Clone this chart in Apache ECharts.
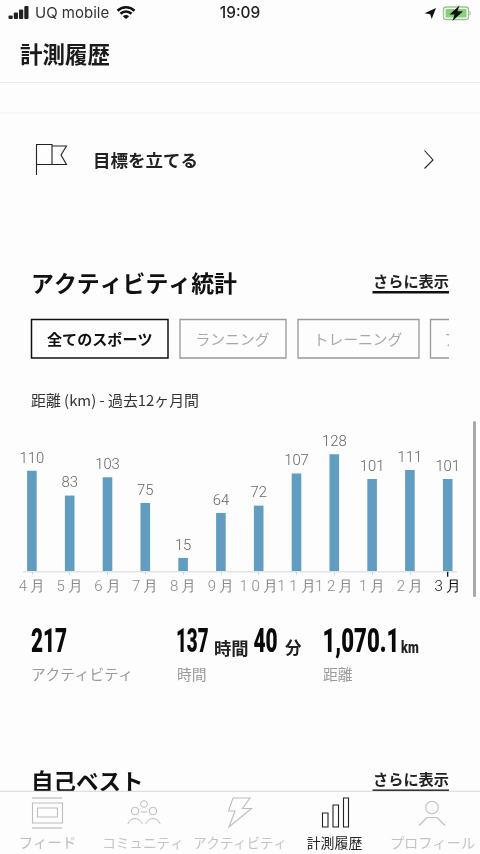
<!DOCTYPE html>
<html><head><meta charset="utf-8">
<style>html,body{margin:0;padding:0;background:#fdfdfd}#c{width:480px;height:854px}</style>
<script src="https://cdn.jsdelivr.net/npm/echarts@6/dist/echarts.min.js"></script>
</head><body><div id="c"></div>
<script>
const months = ['4月','5月','6月','7月','8月','9月','10月','11月','12月','1月','2月','3月'];
const distance = [110,83,103,75,15,64,72,107,128,101,111,101];
const navLabels = ['フィード','コミュニティ','アクティビティ','計測履歴','プロフィール'];
const filterLabels = ['全てのスポーツ','ランニング','トレーニング','アクティビティ'];

const JP = '"Noto Sans CJK JP","Noto Sans",sans-serif';
const NUM = 'Roboto,sans-serif';
const chart = echarts.init(document.getElementById('c'), null, {width:480,height:854});

function T(text,x,y,size,color,o){o=o||{};
  return {type:'text',x:x,y:y,scaleX:o.sx||1,scaleY:o.sy||1,z:o.z||10,style:{text:text,x:0,y:0,fontSize:size,fill:color,
    fontFamily:o.f||JP,fontWeight:o.w||400,align:o.a||'left',verticalAlign:'middle'}};}
function L(x1,y1,x2,y2,color,w,z){return {type:'line',z:z||5,shape:{x1,y1,x2,y2},style:{stroke:color,lineWidth:w||1}};}
function R(x,y,w,h,o){return {type:'rect',z:o.z||5,shape:{x,y,width:w,height:h,r:o.r||0},style:{fill:o.fill||'none',stroke:o.stroke||'none',lineWidth:o.lw||1}};}
function P(points,o){return {type:o.fill?'polygon':'polyline',z:o.z||20,shape:{points},style:{fill:o.fill||'none',stroke:o.stroke||'none',lineWidth:o.lw||1}};}
function C(cx,cy,r,o){return {type:'circle',z:o.z||20,shape:{cx,cy,r},style:{fill:o.fill||'none',stroke:o.stroke||'none',lineWidth:o.lw||1}};}
function A(cx,cy,r,s,e,o){return {type:'arc',z:o.z||20,shape:{cx,cy,r,startAngle:s,endAngle:e},style:{stroke:o.stroke,lineWidth:o.lw||1,fill:'none',lineCap:o.cap||'butt'}};}

const g = [];
// status bar
[[8.5,15.5],[13.8,12.5],[19,9.5],[24.3,6]].forEach(b=>g.push(R(b[0],b[1],4.2,19-b[1],{fill:'#222',r:1})));
g.push(T('UQ mobile',35,13.5,15,'#333',{f:'Inter,Roboto,sans-serif'}));
const wc=[126,19.3];
g.push(A(wc[0],wc[1],12,-2.35,-0.79,{stroke:'#111',lw:2.6}));
g.push(A(wc[0],wc[1],7.8,-2.35,-0.79,{stroke:'#111',lw:2.6}));
g.push(A(wc[0],wc[1],2.6,-2.35,-0.79,{stroke:'#111',lw:3.6}));
g.push(T('19:09',240,13.5,15.4,'#222',{a:'center',w:500,f:'Inter,Roboto,sans-serif'}));
g.push(P([[436,8],[431.7,19],[430.2,14.2],[424.5,13.2]],{fill:'#111'}));
g.push(R(443.5,7,25,12.5,{stroke:'#9cc493',lw:1.3,r:2.5}));
g.push(R(445.5,9,21,8.5,{fill:'#86d279',r:1}));
g.push(R(469.5,11,1.2,4,{fill:'#bbb'}));
g.push(P([[459.5,5.5],[449.5,14.6],[454.5,14.6],[452.5,21],[463,11.2],[457.5,11.2]],{fill:'#111',z:21}));
// header
g.push(T('計測履歴',20,54.5,22.5,'#1a1a1a',{w:700}));
g.push(L(0,82.5,480,82.5,'#eeeeee',1));
g.push(L(0,113,480,113,'#f1f1f1',1));
// goal row
g.push(P([[36.5,175],[36.5,144.5],[52,144.5],[52,164.5],[36.5,164.5]],{stroke:'#222',lw:1.1}));
g.push(P([[52,146],[66.5,146],[61,155],[66.5,164.5],[52,164.5]],{stroke:'#222',lw:1.1}));
g.push(T('目標を立てる',93,160,17.5,'#222',{w:700}));
g.push(P([[424.5,150.5],[433,160],[424.5,168.5]],{stroke:'#222',lw:1.1}));
// section heading
g.push(T('アクティビティ統計',31,283,22.9,'#111',{w:700}));
g.push(T('さらに表示',373,281,15.2,'#222',{w:700}));
g.push(R(372.5,291,76.5,2.6,{fill:'#111'}));
// filters
g.push(R(31.5,319.5,136.5,38.5,{stroke:'#111',lw:1.5}));
g.push(T(filterLabels[0],99.8,339.5,15.1,'#111',{a:'center',w:700}));
g.push(R(180,319.5,106,38.5,{stroke:'#999',lw:1.3}));
g.push(T(filterLabels[1],232.5,339.5,14.8,'#a8a8a8',{a:'center'}));
g.push(R(298,319.5,121,38.5,{stroke:'#999',lw:1.3}));
g.push(T(filterLabels[2],358,339.5,14.8,'#a8a8a8',{a:'center'}));
g.push(R(430.5,319.5,40,38.5,{stroke:'#999',lw:1.3}));
g.push(T(filterLabels[3],444.5,339.5,14.8,'#a8a8a8'));
g.push(R(449,312,31,52,{fill:'#fdfdfd',z:12}));
g.push(T('距離 (km) - 過去12ヶ月間',31,400.5,14.9,'#333'));
// scrollbar
g.push(R(473,421,3,176,{fill:'#a9a9a9',r:1.5}));
// totals
const big = (t,x,y,sx)=>T(t,x,y,33.5,'#0a0a0a',{f:NUM,w:900,sx:sx});
g.push(big('217',31,644,0.62));
g.push(T('アクティビティ',31,674,14.6,'#9a9a9a'));
g.push(big('137',176,644,0.56));
g.push(T('時間',214,648,17.3,'#222',{w:700}));
g.push(big('40',253.5,644,0.62));
g.push(T('分',285,648,16.5,'#222',{w:700}));
g.push(T('時間',177,674,14.8,'#9a9a9a'));
g.push(big('1,070.1',322.5,644,0.66));
g.push(T('km',401,648.5,17,'#222',{f:NUM,w:900,sx:0.74}));
g.push(T('距離',323,674,14.8,'#9a9a9a'));
// personal bests (cut by the tab bar)
g.push(T('自己ベスト',31,781,22.5,'#111',{w:700}));
g.push(T('さらに表示',373,779,15.2,'#222',{w:700}));
g.push(R(372.5,789.6,76.5,1.4,{fill:'#111'}));
// tab bar
g.push(R(0,791,480,63,{fill:'#fdfdfd',z:14}));
g.push(L(0,791.3,480,791.3,'#d8d8d8',1,15));
const grey='#bdbdbd';
g.push(L(32,798,62,798,grey,1.2,20)); g.push(L(32,828,62,828,grey,1.2,20));
g.push(R(32.5,803,30,20,{stroke:grey,lw:1.1,z:20}));
g.push(R(37.5,808,20,9,{stroke:grey,lw:1.1,z:20}));
g.push(C(144,804,3.4,{stroke:grey}));g.push(C(135,811,3.8,{stroke:grey}));g.push(C(153,811,3.8,{stroke:grey}));
g.push(L(141,812,147,812,grey,1,20));
g.push(A(135,826,7.5,-2.9,-0.3,{stroke:grey}));g.push(A(153,826,7.5,-2.9,-0.3,{stroke:grey}));
g.push(P([[233,798],[250,798],[242.5,808.5],[251.5,808.5],[229,827],[235,811],[228.5,811],[233,798]],{stroke:grey,lw:1.1}));
[[322.5,813,5.5,14],[333,805,5.5,22],[343.5,798,5,29]].forEach(b=>g.push(R(b[0],b[1],b[2],b[3],{stroke:'#222',lw:1.1,z:20})));
g.push(C(432,807.5,6.3,{stroke:grey,lw:1.1}));
g.push(P([[419,825.5],[427,817.5],[437,817.5],[445,825.5]],{stroke:grey,lw:1.1}));
[[47.5,14.4,grey],[143,13.6,'#c4c4c4'],[240,13.4,'#c4c4c4'],[334.5,13.9,'#222'],[432.5,14.2,'#c4c4c4']].forEach((n,i)=>
  g.push(T(navLabels[i],n[0],843,n[1],n[2],{a:'center',z:20})));
// axis baseline
g.push(L(23,571.7,457,571.7,'#e4e4e4',1.6,3));

const option = {
  animation:false,
  backgroundColor:'#fdfdfd',
  grid:{left:13,right:13.4,top:443.3,bottom:282.3,containLabel:false},
  xAxis:{type:'category',data:months,
    axisLine:{show:false},
    axisTick:{show:true,alignWithLabel:true,length:3,lineStyle:{color:'#cfcfcf',width:1}},
    axisLabel:{interval:0,margin:8,fontSize:15,fontFamily:NUM,hideOverlap:false,
      color:(v,i)=>i===months.length-1?'#111':'#8a8a8a',
      formatter:v=>v.replace(/(\d)/g,'$1 ').replace(' 月','\u2009月'),
      fontWeight:300}},
  yAxis:{type:'value',min:0,max:140,show:false,splitLine:{show:false}},
  series:[{type:'bar',data:distance,barWidth:9.6,itemStyle:{color:'#619cc1'},
    label:{show:true,position:'top',distance:4.5,fontSize:14.8,fontWeight:300,color:'#666',fontFamily:NUM}}],
  graphic:{elements:g}
};
chart.setOption(option);
const lastX = chart.convertToPixel({xAxisIndex:0},months[months.length-1]);
const baseY = chart.convertToPixel({yAxisIndex:0},0);
g.push(L(lastX,baseY,lastX,baseY+5,'#111',1.3,6));
chart.setOption({graphic:{elements:g}});
</script></body></html>
